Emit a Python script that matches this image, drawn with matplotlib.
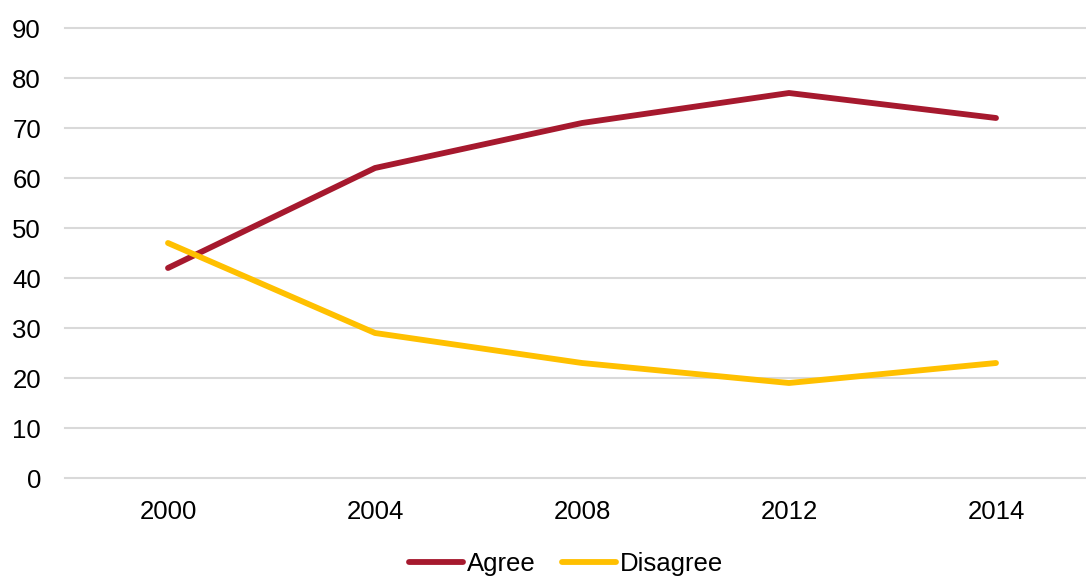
import matplotlib.pyplot as plt
import numpy as np

years = ['2000', '2004', '2008', '2012', '2014']
agree = [42, 62, 71, 77, 72]
disagree = [47, 29, 23, 19, 23]

plt.rcParams['font.family'] = ['Liberation Sans', 'DejaVu Sans']

fig = plt.figure(figsize=(10.86, 5.77), dpi=100)
ax = fig.add_axes([64.5 / 1086, 99 / 577, 1035 / 1086, 450 / 577])

x = np.arange(len(years))
ax.plot(x, agree, color='#A6192E', linewidth=4.2, solid_capstyle='round', label='Agree')
ax.plot(x, disagree, color='#FFC000', linewidth=4.2, solid_capstyle='round', label='Disagree')

ax.set_xlim(-0.5, len(years) - 0.5)
ax.set_ylim(0, 90)
ax.set_yticks(range(0, 91, 10))
ax.set_xticks(x)
ax.set_xticklabels(years)
ax.tick_params(axis='both', length=0, labelsize=18.5, colors='black')
ax.tick_params(axis='y', pad=17)
ax.tick_params(axis='x', pad=16)
ax.grid(axis='y', color='#D9D9D9', linewidth=1.5)
for gl in ax.get_ygridlines():
    gl.set_clip_on(False)
ax.set_axisbelow(True)
for s in ax.spines.values():
    s.set_visible(False)

leg = fig.legend(loc='center', bbox_to_anchor=(566 / 1086, 1 - 564 / 577), ncol=2,
                 frameon=False, fontsize=18.5, handlelength=2.1, handletextpad=0.15,
                 columnspacing=1.0)

fig.savefig('out.png', dpi=100)
